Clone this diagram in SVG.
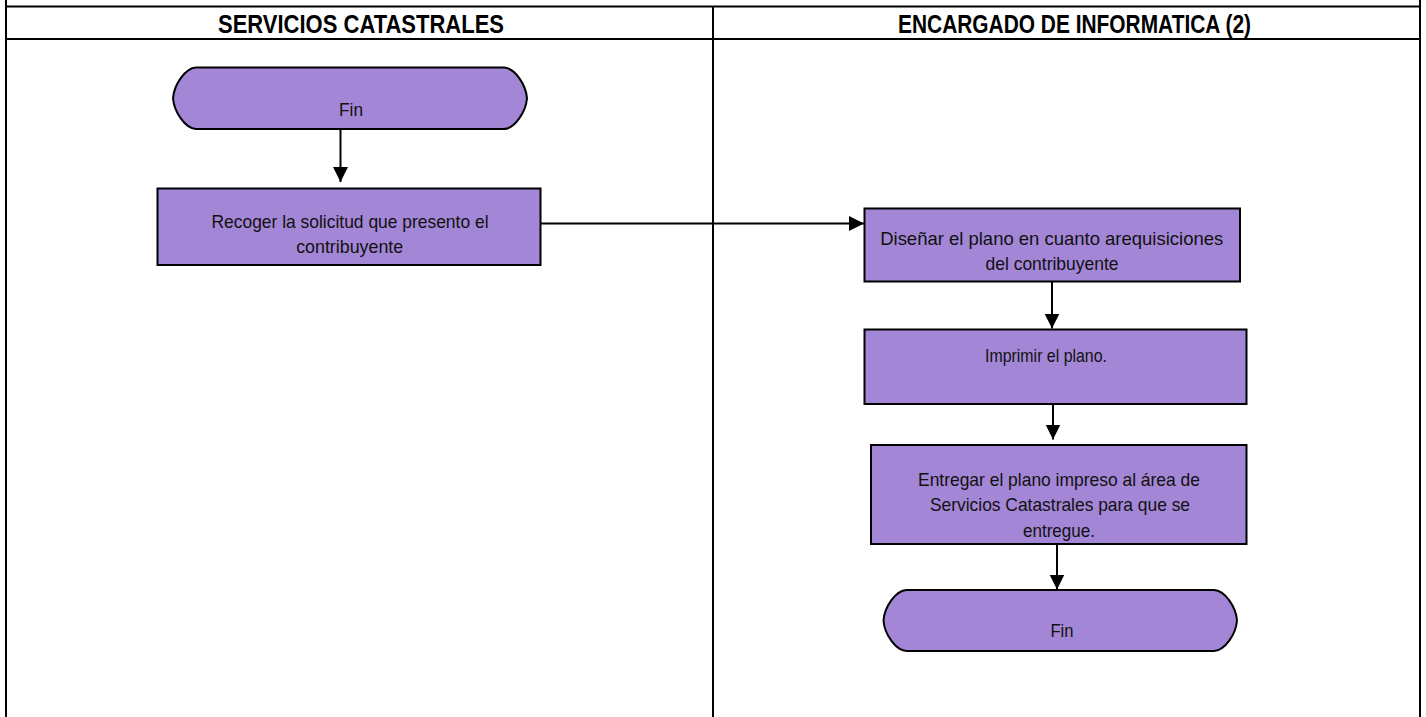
<svg xmlns="http://www.w3.org/2000/svg" width="1426" height="717" viewBox="0 0 1426 717">
<style>
.grid{stroke:#000;stroke-width:2;fill:none}
.hdr{font-family:"Liberation Sans Narrow","Liberation Sans",Arial,sans-serif;font-weight:bold;font-size:25.5px;fill:#000;text-anchor:middle}
.node{fill:#A386D6;stroke:#000;stroke-width:2}
.lbl{font-family:"Liberation Sans Narrow","Liberation Sans",Arial,sans-serif;font-size:18.5px;fill:#111;text-anchor:middle}
.conn{stroke:#000;stroke-width:2;fill:none;marker-end:url(#ah)}
</style>
<defs>
<marker id="ah" markerUnits="userSpaceOnUse" markerWidth="16" markerHeight="16" refX="15" refY="7.5" orient="auto">
<path d="M0,0 L15,7.5 L0,15 Z" fill="#000"/>
</marker>
</defs>
<rect width="1426" height="717" fill="#fff"/>
<g id="table">
<line class="grid" x1="6" y1="0" x2="6" y2="717"/>
<line class="grid" x1="1420" y1="0" x2="1420" y2="717"/>
<line class="grid" x1="713" y1="6.5" x2="713" y2="717"/>
<line class="grid" x1="5" y1="6.5" x2="1421" y2="6.5"/>
<line class="grid" x1="5" y1="39" x2="1421" y2="39"/>
<text class="hdr" x="361" y="33" textLength="286" lengthAdjust="spacingAndGlyphs">SERVICIOS CATASTRALES</text>
<text class="hdr" x="1074.5" y="33" textLength="353" lengthAdjust="spacingAndGlyphs">ENCARGADO DE INFORMATICA (2)</text>
</g>
<g id="connectors">
<path class="conn" d="M340.5,130 V182"/>
<path class="conn" d="M541,223.5 H864"/>
<path class="conn" d="M1052,282 V328.5"/>
<path class="conn" d="M1053,404 V439.5"/>
<path class="conn" d="M1057,544 V589.5"/>
</g>
<g id="fin1">
<path class="node" d="M196,67.5 H504 C515,68 526,85 527,98.25 C526,111.5 515,128.5 504,129 H196 C185,128.5 174,111.5 173,98.25 C174,85 185,68 196,67.5 Z"/>
<text class="lbl" x="351" y="116" textLength="24" lengthAdjust="spacingAndGlyphs">Fin</text>
</g>
<g id="recoger">
<rect class="node" x="157.5" y="188.5" width="383" height="76.5"/>
<text class="lbl" x="350" y="228.3" textLength="277" lengthAdjust="spacingAndGlyphs">Recoger la solicitud que presento el</text>
<text class="lbl" x="349.7" y="253.3" textLength="107" lengthAdjust="spacingAndGlyphs">contribuyente</text>
</g>
<g id="disenar">
<rect class="node" x="864.5" y="208.5" width="375.5" height="73"/>
<text class="lbl" x="1051.7" y="245" textLength="343" lengthAdjust="spacingAndGlyphs">Diseñar el plano en cuanto arequisiciones</text>
<text class="lbl" x="1052" y="269.5" textLength="133" lengthAdjust="spacingAndGlyphs">del contribuyente</text>
</g>
<g id="imprimir">
<rect class="node" x="864.5" y="329.5" width="382" height="74.5"/>
<text class="lbl" x="1046" y="362" textLength="122" lengthAdjust="spacingAndGlyphs">Imprimir el plano.</text>
</g>
<g id="entregar">
<rect class="node" x="871" y="445" width="375.5" height="99"/>
<text class="lbl" x="1059" y="486" textLength="282" lengthAdjust="spacingAndGlyphs">Entregar el plano impreso al área de</text>
<text class="lbl" x="1060" y="511" textLength="260" lengthAdjust="spacingAndGlyphs">Servicios Catastrales para que se</text>
<text class="lbl" x="1059" y="536.5" textLength="72" lengthAdjust="spacingAndGlyphs">entregue.</text>
</g>
<g id="fin2">
<path class="node" d="M906.5,590 H1214 C1225,590.5 1236,607 1237,620.5 C1236,634 1225,650.5 1214,651 H906.5 C895.5,650.5 884.5,634 883.5,620.5 C884.5,607 895.5,590.5 906.5,590 Z"/>
<text class="lbl" x="1062" y="637" textLength="23" lengthAdjust="spacingAndGlyphs">Fin</text>
</g>
</svg>
